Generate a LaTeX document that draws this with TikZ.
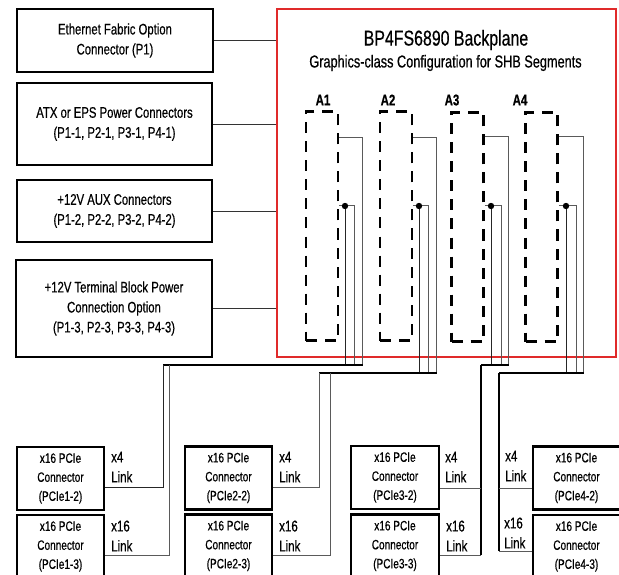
\documentclass[tikz,border=0pt]{standalone}
\usepackage{fontspec}
\setmainfont{Liberation Sans}[FakeStretch=0.74,FakeBold=0.5]
\usetikzlibrary{calc}
\newcommand\lbfont{\fontsize{15.3}{20}\selectfont}
\newcommand\pcfont{\fontsize{13.6}{19}\selectfont}
\newcommand\lkfont{\fontsize{15.6}{20}\selectfont}
\definecolor{bpred}{HTML}{E02A2A}
\definecolor{wiregray}{HTML}{5A5A5A}
\begin{document}
\begin{tikzpicture}[x=1pt,y=-1pt,
  lbox/.style={draw=black,line width=2.5pt,inner sep=0pt,align=center,font=\lbfont,minimum width=195pt},
  pbox/.style={draw=black,line width=2.5pt,inner sep=0pt,align=center,font=\pcfont,minimum width=87pt,minimum height=63pt},
  slot/.style={draw=black,line width=2.6pt,dash pattern=on 11pt off 8pt,minimum width=32pt,minimum height=229pt,inner sep=0pt},
  conn/.style={draw=black!80,line width=0.9pt},
  wire/.style={draw=wiregray,line width=1pt},
  blk/.style={draw=black!85,line width=1pt},
  bus/.style={draw=black,line width=2.5pt},
  thickv/.style={draw=black,line width=2.5pt},
  lk/.style={anchor=west,align=left,font=\lkfont,inner sep=0pt},
  slotlbl/.style={font=\fontsize{15.5}{18}\selectfont\bfseries,inner sep=0pt}
]
\useasboundingbox (0,0) rectangle (619,575);
\clip (0,0) rectangle (619,575);

% backplane
\node[draw=bpred,line width=2.5pt,minimum width=339pt,minimum height=348pt,inner sep=0pt] (bp) at (446.5,183) {};
\node[font=\fontsize{21.5}{24}\selectfont,inner sep=0pt] (title) at (446,40) {BP4FS6890 Backplane};
\node[font=\fontsize{17.2}{20}\selectfont,inner sep=0pt] (subtitle) at (445.5,63) {Graphics-class Configuration for SHB Segments};

% left boxes
\node[lbox,minimum width=196pt,minimum height=63pt] (b1) at (115,40.5) {Ethernet Fabric Option\\Connector (P1)};
\node[lbox,minimum height=82pt] (b2) at (114.5,124) {ATX or EPS Power Connectors\\(P1-1, P2-1, P3-1, P4-1)};
\node[lbox,minimum height=62pt] (b3) at (114.5,211) {+12V AUX Connectors\\(P1-2, P2-2, P3-2, P4-2)};
\node[lbox,minimum width=196pt,minimum height=97pt] (b4) at (114,308.5) {+12V Terminal Block Power\\Connection Option\\(P1-3, P2-3, P3-3, P4-3)};
\foreach \b in {b1,b2,b3,b4}{\draw[conn] (\b.east) -- (\b.east -| bp.west);}

% slots
\node[slot] (s1) at (322,226) {};
\node[slot] (s2) at (396,226) {};
\node[slot] (s3) at (467.5,227) {};
\node[slot] (s4) at (541.5,227) {};
\node[slotlbl] (a1) at (323,100) {A1};
\node[slotlbl] (a2) at (388,100) {A2};
\node[slotlbl] (a3) at (452,100) {A3};
\node[slotlbl] (a4) at (520,100) {A4};

% bus coordinates
\coordinate (c1L) at (163,365); \coordinate (c1M) at (169,365); \coordinate (c1R) at (363,365);
\coordinate (c2L) at (319,373); \coordinate (c2M) at (330,373); \coordinate (c2R) at (437,373);
\coordinate (c3L) at (481,365); \coordinate (c3R) at (509,365);
\coordinate (c4L) at (499,373); \coordinate (c4R) at (584,373);
% wire coordinates
\coordinate (u1) at (362,138); \coordinate (l1) at (354,206); \coordinate (d1) at (345,206);
\coordinate (u2) at (436,138); \coordinate (l2) at (428,206); \coordinate (d2) at (419,206);
\coordinate (u3) at (508,137); \coordinate (l3) at (501,206); \coordinate (d3) at (491,206);
\coordinate (u4) at (583,137); \coordinate (l4) at (576,206); \coordinate (d4) at (566,206);

\foreach \i in {1,2,3,4}{
  \draw[wire] (s\i.east |- u\i) -- (u\i) -- (u\i |- c\i R);
  \draw[wire] (s\i.east |- l\i) -- (l\i) -- (l\i |- c\i R);
  \draw[blk] (d\i) -- (d\i |- c\i R);
  \fill[black] (d\i) circle (3.2pt);
  \draw[bus] (c\i L) -- (c\i R);
}

% PCIe boxes
\node[pbox] (p12) at (60.5,478.5) {x16 PCIe\\Connector\\(PCIe1-2)};
\node[pbox] (p13) at (60.5,546.5) {x16 PCIe\\Connector\\(PCIe1-3)};
\node[pbox] (p22) at (228.5,478) {x16 PCIe\\Connector\\(PCIe2-2)};
\node[pbox] (p23) at (228.5,546) {x16 PCIe\\Connector\\(PCIe2-3)};
\node[pbox,minimum width=88pt] (p32) at (395,477.5) {x16 PCIe\\Connector\\(PCIe3-2)};
\node[pbox,minimum width=88pt] (p33) at (395,546) {x16 PCIe\\Connector\\(PCIe3-3)};
\node[pbox] (p42) at (576.5,478) {x16 PCIe\\Connector\\(PCIe4-2)};
\node[pbox] (p43) at (576.5,546.5) {x16 PCIe\\Connector\\(PCIe4-3)};

% descending links
\coordinate (k12) at (163,487); \coordinate (k13) at (169,555);
\coordinate (k22) at (319,487); \coordinate (k23) at (330,555);
\coordinate (k32) at (481,488); \coordinate (k33) at (481,555);
\coordinate (k42) at (499,488); \coordinate (k43) at (499,551);
\draw[blk] (c1L) -- (k12) -- (k12 -| p12.east);
\draw[wire] (c1M) -- (k13) -- (k13 -| p13.east);
\draw[wire] (c2L) -- (k22) -- (k22 -| p22.east);
\draw[wire] (c2M) -- (k23) -- (k23 -| p23.east);
\draw[thickv] (c3L) -- (k33);
\draw[wire] (k32) -- (k32 -| p32.east);
\draw[wire] (k33) -- (k33 -| p33.east);
\draw[thickv] (c4L) -- (k43);
\draw[wire] (k42) -- (k42 -| p42.west);
\draw[wire] (k43) -- (k43 -| p43.west);

% link labels
\node[lk] (t12) at (111,467) {x4\\Link};
\node[lk] (t13) at (111,536) {x16\\Link};
\node[lk] (t22) at (279,467) {x4\\Link};
\node[lk] (t23) at (279,536) {x16\\Link};
\node[lk] (t32) at (445,467) {x4\\Link};
\node[lk] (t33) at (446,536) {x16\\Link};
\node[lk] (t42) at (505,466) {x4\\Link};
\node[lk] (t43) at (504,533) {x16\\Link};
\end{tikzpicture}
\end{document}
